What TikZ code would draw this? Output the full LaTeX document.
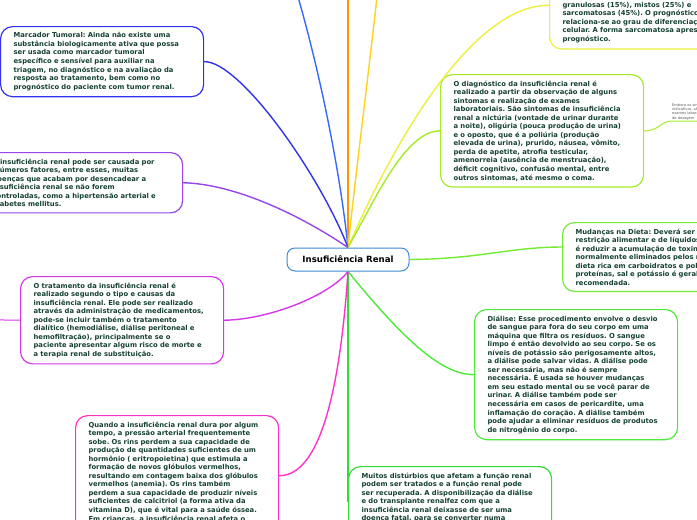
\documentclass[tikz,border=0pt]{standalone}
\usepackage{fontspec}
\setmainfont{DejaVu Sans}
\usetikzlibrary{calc}

\definecolor{ink}{RGB}{22,66,50}
\definecolor{cCenter}{RGB}{60,140,215}
\definecolor{cBlueDark}{RGB}{50,50,235}
\definecolor{cBlue}{RGB}{55,105,255}
\definecolor{cOrange}{RGB}{255,150,0}
\definecolor{cGold}{RGB}{255,210,30}
\definecolor{cYellow}{RGB}{238,238,60}
\definecolor{cLime}{RGB}{165,235,40}
\definecolor{cGreenA}{RGB}{115,235,50}
\definecolor{cGreenB}{RGB}{75,235,55}
\definecolor{cGreenC}{RGB}{50,220,50}
\definecolor{cPink}{RGB}{255,50,200}
\definecolor{cMagenta}{RGB}{215,55,235}
\definecolor{cPurple}{RGB}{150,70,235}

\def\topicfont{\fontsize{6.8}{8.55}\selectfont\bfseries\frenchspacing}
\def\mainfont{\fontsize{8.6}{9}\selectfont\bfseries}
\def\notefont{\fontsize{3.6}{4.3}\selectfont}

\tikzset{
  topic/.style={draw=#1, fill=white, line width=1.2pt, rounded corners=12pt, anchor=north west,
    align=left, text width=177pt, inner xsep=13pt, inner ysep=6pt, text=ink, font=\topicfont},
  link/.style={draw=#1, line width=1.4pt},
  central/.style={draw=cCenter, fill=white, line width=1pt, rounded corners=8pt,
    minimum width=122pt, minimum height=23pt, inner sep=0pt, text=black, font=\mainfont}
}

\begin{document}
\begin{tikzpicture}[x=1pt, y=-1pt]
			%%%%% START %%%%%
			\useasboundingbox (0,0) rectangle (697,520);
			\clip (0,0) rectangle (697,520);
			
			\node[central] (ir) at (348,259.5) {Insuficiência Renal};
			
			% ramos de cima
			\node[topic=cBlueDark] (mct) at (0,26) {Marcador Tumoral: Ainda não existe uma\\
				substância biologicamente ativa que possa\\
				ser usada como marcador tumoral\\
				específico e sensível para auxiliar na\\
				triagem, no diagnóstico e na avaliação da\\
				resposta ao tratamento, bem como no\\
				prognóstico do paciente com tumor renal.};
			\node[topic=cYellow, text width=200pt] (gran) at (549,-39) {Tipos histológicos: os tumores renais\\
				podem ser classificados pelo tipo\\
				celular predominante em células\\
				claras, cromófilas, cromófobas,\\
				granulosas (15\%), mistos (25\%) e\\
				sarcomatosas (45\%). O prognóstico\\
				relaciona-se ao grau de diferenciação\\
				celular. A forma sarcomatosa apresenta pior\\
				prognóstico.};
			\node[topic=cLime] (diag) at (440,74) {O diagnóstico da insuficiência renal é\\
				realizado a partir da observação de alguns\\
				sintomas e realização de exames\\
				laboratoriais. São sintomas de insuficiência\\
				renal a nictúria (vontade de urinar durante\\
				a noite), oligúria (pouca produção de urina)\\
				e o oposto, que é a poliúria (produção\\
				elevada de urina), prurido, náusea, vômito,\\
				perda de apetite, atrofia testicular,\\
				amenorreia (ausência de menstruação),\\
				déficit cognitivo, confusão mental, entre\\
				outros sintomas, até mesmo o coma.};
			\node[anchor=south west, inner sep=0pt, align=left, text=black!65, font=\notefont] (embora) at (672,120) {Embora os sintomas sejam\\
				indicativos, são necessários\\
				exames laboratoriais\\
				de dosagem};
			\node[topic=cPurple] (causas) at (-21,152) {A insuficiência renal pode ser causada por\\
				inúmeros fatores, entre esses, muitas\\
				doenças que acabam por desencadear a\\
				insuficiência renal se não forem\\
				controladas, como a hipertensão arterial e\\
				diabetes mellitus.};
			
			% ramos de baixo
			\node[topic=cMagenta] (trat) at (20,276) {O tratamento da insuficiência renal é\\
				realizado segundo o tipo e causas da\\
				insuficiência renal. Ele pode ser realizado\\
				através da administração de medicamentos,\\
				pode-se incluir também o tratamento\\
				dialítico (hemodiálise, diálise peritoneal e\\
				hemofiltração), principalmente se o\\
				paciente apresentar algum risco de morte e\\
				a terapia renal de substituição.};
			\node[topic=cGreenA, text width=200pt] (dieta) at (562,222) {Mudanças na Dieta: Deverá ser feita\\
				restrição alimentar e de líquidos. O objetivo\\
				é reduzir a acumulação de toxinas\\
				normalmente eliminados pelos rins. Uma\\
				dieta rica em carboidratos e pobre em\\
				proteínas, sal e potássio é geralmente\\
				recomendada.};
			\node[topic=cGreenB] (dial) at (474,309) {Diálise: Esse procedimento envolve o desvio\\
				de sangue para fora do seu corpo em uma\\
				máquina que filtra os resíduos. O sangue\\
				limpo é então devolvido ao seu corpo. Se os\\
				níveis de potássio são perigosamente altos,\\
				a diálise pode salvar vidas. A diálise pode\\
				ser necessária, mas não é sempre\\
				necessária. É usada se houver mudanças\\
				em seu estado mental ou se você parar de\\
				urinar. A diálise também pode ser\\
				necessária em casos de pericardite, uma\\
				inflamação do coração. A diálise também\\
				pode ajudar a eliminar resíduos de produtos\\
				de nitrogênio do corpo.};
			\node[topic=cPink] (quando) at (75,415) {Quando a insuficiência renal dura por algum\\
				tempo, a pressão arterial frequentemente\\
				sobe. Os rins perdem a sua capacidade de\\
				produção de quantidades suficientes de um\\
				hormônio ( eritropoietina) que estimula a\\
				formação de novos glóbulos vermelhos,\\
				resultando em contagem baixa dos glóbulos\\
				vermelhos (anemia). Os rins também\\
				perdem a sua capacidade de produzir níveis\\
				suficientes de calcitriol (a forma ativa da\\
				vitamina D), que é vital para a saúde óssea.\\
				Em crianças, a insuficiência renal afeta o\\
				crescimento ósseo normal.};
			\node[topic=cGreenC] (muitos) at (348,466) {Muitos distúrbios que afetam a função renal\\
				podem ser tratados e a função renal pode\\
				ser recuperada. A disponibilização da diálise\\
				e do transplante renalfez com que a\\
				insuficiência renal deixasse de ser uma\\
				doença fatal, para se converter numa\\
				doença crônica.};
			
			% pontas soltas (ramos fora da imagem)
			\coordinate (topA) at (290,-30);
			\coordinate (topB) at (348,-30);
			\coordinate (topC) at (380,-30);
			\coordinate (leftA) at (-30,319.5);
			
			% ligacoes
			\draw[link=cBlue] (ir.north) .. controls (340,170) and (318,60) .. (topA);
			\draw[link=cOrange] (ir.north) -- (topB);
			\draw[link=cGold] (ir.north) .. controls (356,170) and (368,80) .. (topC);
			\draw[link=cBlueDark] (ir.north) .. controls (320,175) and (240,61) .. (mct.east);
			\draw[link=cYellow] (ir.north) .. controls (390,150) and (470,5) .. (gran.west);
			\draw[link=cLime] (ir.north) .. controls (375,200) and (405,131) .. (diag.west);
			\draw[link=cPurple] (ir.north) .. controls (300,215) and (235,184) .. (causas.east);
			\draw[link=cGreenA] (ir.east) .. controls (480,259) and (510,247) .. ([yshift=10pt]dieta.west);
			\draw[link=cGreenB] (ir.south) .. controls (400,335) and (440,375) .. (dial.west);
			\draw[link=cGreenC] (ir.south) -- (muitos.west);
			\draw[link=cMagenta] (ir.south) .. controls (330,295) and (270,319.5) .. (trat.east);
			\draw[link=cPink] (ir.south) .. controls (340,390) and (320,476) .. (quando.east);
			\draw[link=cMagenta, line width=1pt] (trat.west) -- (leftA);
			\draw[draw=cLime, line width=1pt] (diag.east) .. controls (660,131) and (660,121) .. ([yshift=-1pt]embora.south west) -- ++(40,0);
			
			%%%%% END %%%%%
		\end{tikzpicture}
\end{document}
